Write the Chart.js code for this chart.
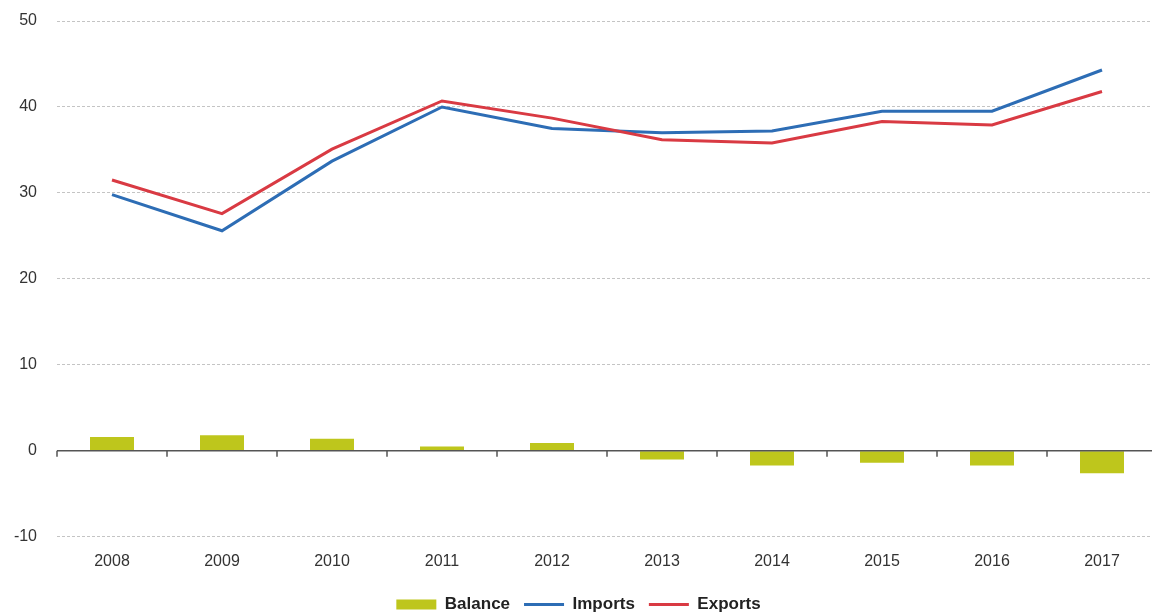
<!DOCTYPE html>
<html>
<head>
<meta charset="utf-8">
<script src="https://cdn.jsdelivr.net/npm/chart.js@4.4.1/dist/chart.umd.min.js"></script>
<style>
  html, body { margin: 0; padding: 0; background: #fff; overflow: hidden; }
  #wrap { position: relative; width: 1157px; height: 623px; }
</style>
</head>
<body>
<div id="wrap"><canvas id="myChart"></canvas></div>
<script>
// data
var years = ['2008', '2009', '2010', '2011', '2012', '2013', '2014', '2015', '2016', '2017'];
var balance = [1.6, 1.8, 1.4, 0.5, 0.9, -1.0, -1.7, -1.4, -1.7, -2.6];
var imports = [29.8, 25.6, 33.7, 40.0, 37.5, 37.0, 37.2, 39.5, 39.5, 44.3];
var exports = [31.5, 27.6, 35.1, 40.7, 38.7, 36.2, 35.8, 38.3, 37.9, 41.8];
var yTicks = [-10, 0, 10, 20, 30, 40, 50];

// solid zero line with little ticks between the years
var zeroAxis = {
    id: 'zeroAxis',
    afterDatasetsDraw: function(chart){
        var ctx = chart.ctx;
        var x = chart.scales.x;
        var y0 = chart.scales.y.getPixelForValue(0);
        var area = chart.chartArea;
        ctx.save();
        ctx.strokeStyle = '#555555';
        ctx.lineWidth = 1.5;
        ctx.beginPath();
        ctx.moveTo(area.left, y0);
        ctx.lineTo(area.right, y0);
        for (var i = 0; i <= years.length; i++) {
            var px;
            if (i == 0) px = area.left;
            else if (i == years.length) px = area.right;
            else px = (x.getPixelForValue(i - 1) + x.getPixelForValue(i)) / 2;
            ctx.moveTo(px, y0);
            ctx.lineTo(px, y0 + 6);
        }
        ctx.stroke();
        ctx.restore();
    }
};

var ctx = document.getElementById('myChart').getContext('2d');

var myChart = new Chart(ctx, {
    type: 'bar',
    data: {
        labels: years,
        datasets: [{
            type: 'bar',
            label: 'Balance',
            data: balance,
            backgroundColor: '#bec61c',
            borderWidth: 0,
            pointStyle: 'rect',
            categoryPercentage: 1,
            barPercentage: 0.4,
            order: 3
        }, {
            type: 'line',
            label: 'Imports',
            data: imports,
            borderColor: '#2d6db5',
            backgroundColor: '#2d6db5',
            borderWidth: 3,
            pointRadius: 0,
            pointStyle: 'line',
            tension: 0,
            order: 2
        }, {
            type: 'line',
            label: 'Exports',
            data: exports,
            borderColor: '#d93a43',
            backgroundColor: '#d93a43',
            borderWidth: 3,
            pointRadius: 0,
            pointStyle: 'line',
            tension: 0,
            order: 1
        }]
    },
    options: {
        responsive: true,
        maintainAspectRatio: false,
        animation: false,
        layout: { padding: { top: 21, right: 0, left: 0, bottom: 0 } },
        plugins: {
            tooltip: { enabled: false },
            legend: {
                position: 'bottom',
                labels: {
                    usePointStyle: true,
                    pointStyleWidth: 40,
                    boxHeight: 10,
                    padding: 14,
                    color: '#222222',
                    font: { family: 'Liberation Sans, Arial, sans-serif', size: 17, weight: 'bold' },
                    sort: function(a, b){ return a.datasetIndex - b.datasetIndex; }
                }
            }
        },
        scales: {
            x: {
                offset: true,
                afterFit: function(scale){ scale.height += 4; },
                grid: { display: false },
                border: { display: false },
                ticks: {
                    color: '#333333',
                    padding: 7,
                    font: { family: 'Liberation Sans, Arial, sans-serif', size: 16 }
                }
            },
            y: {
                min: -10,
                max: 50,
                afterBuildTicks: function(scale){
                    scale.ticks = yTicks.map(function(v){ return { value: v }; });
                },
                afterFit: function(scale){
                    scale.width = 57;
                    scale.paddingTop = 0;
                    scale.paddingBottom = 0;
                },
                grid: {
                    drawTicks: false,
                    color: function(c){ return c.tick && c.tick.value === 0 ? 'rgba(0,0,0,0)' : '#c4c4c4'; },
                    lineWidth: 1
                },
                border: { display: false, dash: [3, 2] },
                ticks: {
                    color: '#333333',
                    padding: 20,
                    font: { family: 'Liberation Sans, Arial, sans-serif', size: 16 }
                }
            }
        }
    },
    plugins: [zeroAxis]
});
</script>
</body>
</html>
